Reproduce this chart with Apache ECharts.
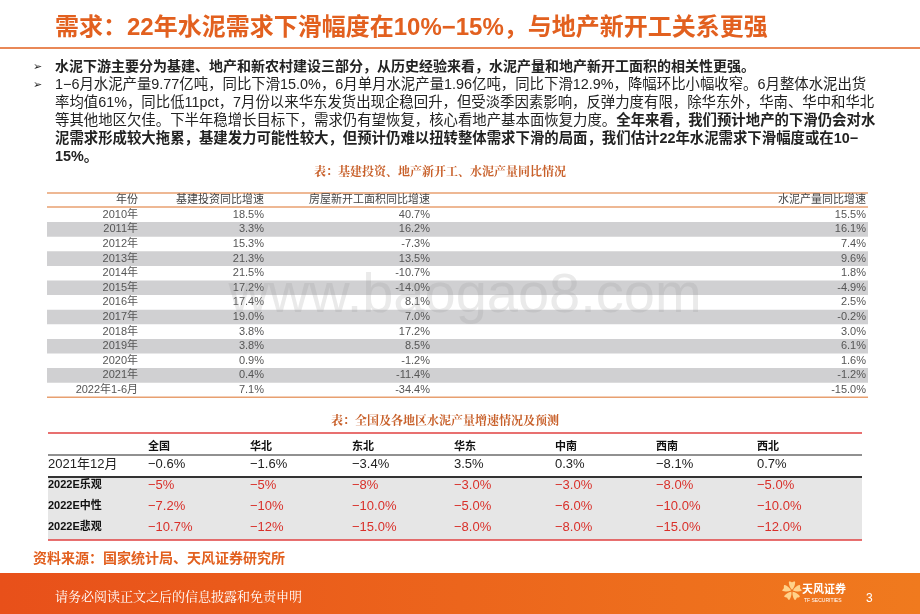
<!DOCTYPE html>
<html><head><meta charset="utf-8">
<script src="https://cdn.jsdelivr.net/npm/echarts@6/dist/echarts.min.js"></script>
<style>html,body{margin:0;padding:0;background:#fff}#c{width:920px;height:614px}</style>
</head><body><div id="c"></div>
<script>
const slideTitle = '需求：22年水泥需求下滑幅度在10%−15%，与地产新开工关系更强';
const bullet1 = '水泥下游主要分为基建、地产和新农村建设三部分，从历史经验来看，水泥产量和地产新开工面积的相关性更强。';
const bullet2Lines = [
  ['1−6月水泥产量9.77亿吨，同比下滑15.0%，6月单月水泥产量1.96亿吨，同比下滑12.9%，降幅环比小幅收窄。6月整体水泥出货', ''],
  ['率均值61%，同比低11pct，7月份以来华东发货出现企稳回升，但受淡季因素影响，反弹力度有限，除华东外，华南、华中和华北', ''],
  ['等其他地区欠佳。下半年稳增长目标下，需求仍有望恢复，核心看地产基本面恢复力度。', '全年来看，我们预计地产的下滑仍会对水'],
  ['', '泥需求形成较大拖累，基建发力可能性较大，但预计仍难以扭转整体需求下滑的局面，我们估计22年水泥需求下滑幅度或在10−'],
  ['', '15%。']
];
const table1Title = '表：基建投资、地产新开工、水泥产量同比情况';
const table1Headers = ['年份', '基建投资同比增速', '房屋新开工面积同比增速', '水泥产量同比增速'];
const years = ['2010年','2011年','2012年','2013年','2014年','2015年','2016年','2017年','2018年','2019年','2020年','2021年','2022年1-6月'];
const infraGrowth = ['18.5%','3.3%','15.3%','21.3%','21.5%','17.2%','17.4%','19.0%','3.8%','3.8%','0.9%','0.4%','7.1%'];
const housingStarts = ['40.7%','16.2%','-7.3%','13.5%','-10.7%','-14.0%','8.1%','7.0%','17.2%','8.5%','-1.2%','-11.4%','-34.4%'];
const cementOutput = ['15.5%','16.1%','7.4%','9.6%','1.8%','-4.9%','2.5%','-0.2%','3.0%','6.1%','1.6%','-1.2%','-15.0%'];
const table2Title = '表：全国及各地区水泥产量增速情况及预测';
const regions = ['全国','华北','东北','华东','中南','西南','西北'];
const row2021Label = '2021年12月';
const row2021 = ['−0.6%','−1.6%','−3.4%','3.5%','0.3%','−8.1%','0.7%'];
const scenarioLabels = ['2022E乐观','2022E中性','2022E悲观'];
const scenarioOptimistic = ['−5%','−5%','−8%','−3.0%','−3.0%','−8.0%','−5.0%'];
const scenarioNeutral = ['−7.2%','−10%','−10.0%','−5.0%','−6.0%','−10.0%','−10.0%'];
const scenarioPessimistic = ['−10.7%','−12%','−15.0%','−8.0%','−8.0%','−15.0%','−12.0%'];
const sourceText = '资料来源：国家统计局、天风证券研究所';
const footerText = '请务必阅读正文之后的信息披露和免责申明';
const pageNo = '3';

const ORANGE = '#E2601F';
const FONT = '"Liberation Sans","Noto Sans CJK SC",sans-serif';
const SERIF = '"Noto Serif CJK SC","Noto Sans CJK SC",serif';
const els = [];
function txt(x,y,t,o){els.push(Object.assign({type:'text',x:x,y:y,style:Object.assign({text:t,fill:'#222',font:'12px '+FONT,textVerticalAlign:'middle'},o||{})}));}
function rect(x,y,w,h,fill){els.push({type:'rect',shape:{x:x,y:y,width:w,height:h},style:{fill:fill}});}
function line(x1,y1,x2,y2,c,w){els.push({type:'line',shape:{x1:x1,y1:y1,x2:x2,y2:y2},style:{stroke:c,lineWidth:w}});}

txt(55,28,slideTitle,{fill:ORANGE,font:'bold 24px '+FONT});
line(0,48,920,48,ORANGE,1.5);
txt(33,67,'➢',{font:'11px '+FONT});
txt(55,67,bullet1,{font:'bold 14px '+FONT});
txt(33,85,'➢',{font:'11px '+FONT});
bullet2Lines.forEach((l,i)=>{
  const y=85+i*18;
  els.push({type:'text',x:55,y:y,style:{text:(l[0]?'{n|'+l[0]+'}':'')+(l[1]?'{b|'+l[1]+'}':''),textVerticalAlign:'middle',
    rich:{n:{font:'14.4px '+FONT,fill:'#222'},b:{font:'bold 14.4px '+FONT,fill:'#222'}}}});
});
txt(440,171,table1Title,{fill:'#C8602A',font:'bold 12px '+SERIF,textAlign:'center'});
const t1Top=193, rh=14.6, t1x0=47, t1x1=868;
const colR=[138,264,430,866];
line(t1x0,t1Top,t1x1,t1Top,'#E8A070',1.5);
for(let c=0;c<4;c++) txt(colR[c],t1Top+7,table1Headers[c],{textAlign:'right',fill:'#444',font:'11px '+FONT});
line(t1x0,t1Top+14,t1x1,t1Top+14,'#E8A070',1.5);
years.forEach((yr,i)=>{
  const y=t1Top+14.5+i*rh;
  if(i%2===1) rect(t1x0,y,t1x1-t1x0,rh,'#D0D0D2');
  const cells=[yr,infraGrowth[i],housingStarts[i],cementOutput[i]];
  cells.forEach((v,c)=>txt(colR[c],y+rh/2,v,{textAlign:'right',fill:'#555',font:'11px '+FONT}));
});
const t1Bot=t1Top+14.5+years.length*rh;
line(t1x0,t1Bot,t1x1,t1Bot,'#E8A070',1.5);
txt(465,297,'www.baogao8.com',{textAlign:'center',fill:'rgba(150,150,150,0.2)',font:'56px '+FONT});
txt(445,420,table2Title,{fill:'#C8602A',font:'bold 12px '+SERIF,textAlign:'center'});
const t2x0=48,t2x1=862;
const colX=[148,250,352,454,555,656,757];
line(t2x0,433,t2x1,433,'#E04040',1.5);
regions.forEach((r,i)=>txt(colX[i],447,r,{font:'bold 11px '+FONT,fill:'#111'}));
line(t2x0,455,t2x1,455,'#222',1);
txt(t2x0,464,row2021Label,{font:'13px '+FONT,fill:'#222'});
row2021.forEach((v,i)=>txt(colX[i],464,v,{font:'13px '+FONT,fill:'#222'}));
rect(t2x0,477,t2x1-t2x0,63,'#E6E6E6');
line(t2x0,477,t2x1,477,'#333',2);
[scenarioOptimistic,scenarioNeutral,scenarioPessimistic].forEach((arr,k)=>{
  const y=485+k*21;
  txt(t2x0,y,scenarioLabels[k],{font:'bold 11px '+FONT,fill:'#111'});
  arr.forEach((v,i)=>txt(colX[i],y,v,{font:'13px '+FONT,fill:'#D9302A'}));
});
line(t2x0,540,t2x1,540,'#E04040',1.5);
txt(33,559,sourceText,{fill:ORANGE,font:'bold 14px '+FONT});
els.push({type:'rect',shape:{x:0,y:573,width:920,height:41},style:{fill:new echarts.graphic.LinearGradient(0,0,1,0,[{offset:0,color:'#E8501A'},{offset:1,color:'#F07A1E'}])}});
txt(55,596,footerText,{fill:'#fff',font:'13px '+SERIF});
txt(782,593,'✿',{fill:'#FFD28A',font:'20px '+FONT});
txt(802,590,'天风证券',{fill:'#fff',font:'bold 11px '+FONT});
txt(804,601,'TF SECURITIES',{fill:'#fff',font:'5px '+FONT});
txt(866,599,pageNo,{fill:'#fff',font:'12px '+FONT});

const chart=echarts.init(document.getElementById('c'));
chart.setOption({graphic:{elements:els}});
</script></body></html>
